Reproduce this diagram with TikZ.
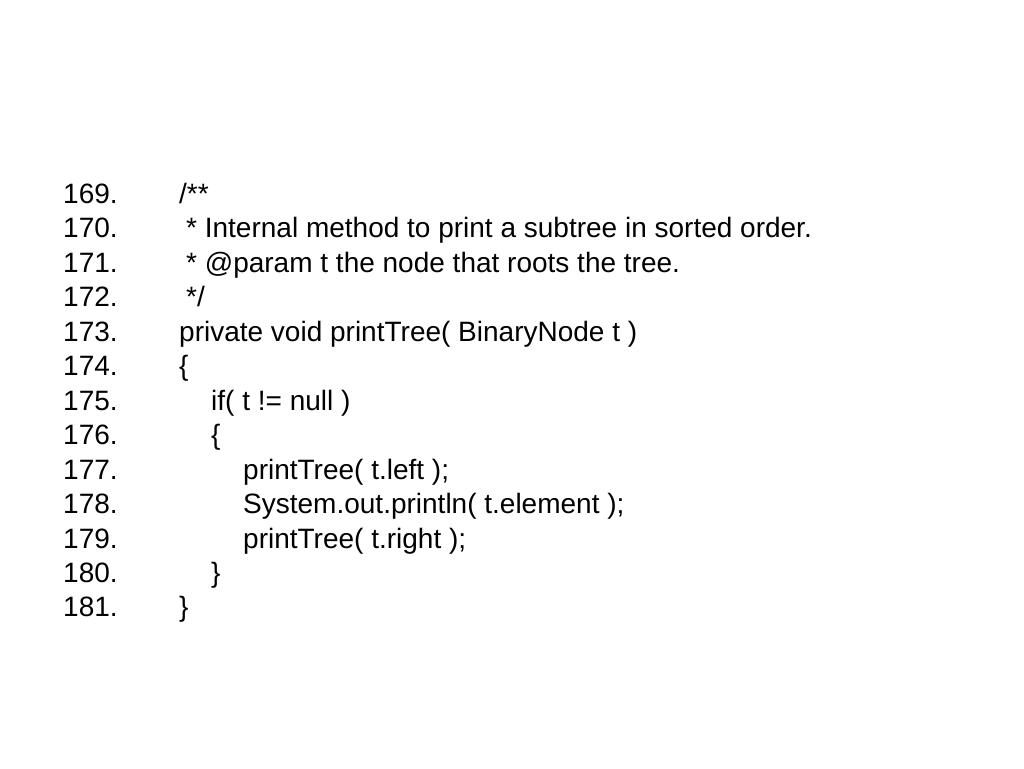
\documentclass[tikz,border=0pt]{standalone}
\usepackage{fontspec}
\setmainfont{Liberation Sans}
\begin{document}
\begin{tikzpicture} [x=1pt, y=-1pt, lineno/.style={anchor=base west, inner sep=0pt, font=\fontsize{28}{32}\selectfont}, codeline/.style={anchor=base west, inner sep=0pt, font=\fontsize{28}{32}\selectfont}]
	\useasboundingbox [fill=white] (0,0) rectangle (1024,768);
	\foreach \num/\ind/\code [count=\i from 0] in {
			169/179/{/**},
			170/186/{* Internal method to print a subtree in sorted order.},
			171/186/{* @param t the node that roots the tree.},
			172/186/{*/},
			173/179/{private void printTree( BinaryNode t )},
			174/179/{\{},
			175/211/{if( t != null )},
			176/211/{\{},
			177/243/{printTree( t.left );},
			178/243/{System.out.println( t.element );},
			179/243/{printTree( t.right );},
			180/211/{\}},
			181/179/{\}}}
		{
			\node [lineno] (num\num) at (63, 203.5+34.45*\i) {\num.};
			\node [codeline] (code\num) at (\ind, 203.5+34.45*\i) {\code};
		}
	;\end{tikzpicture}
\end{document}
